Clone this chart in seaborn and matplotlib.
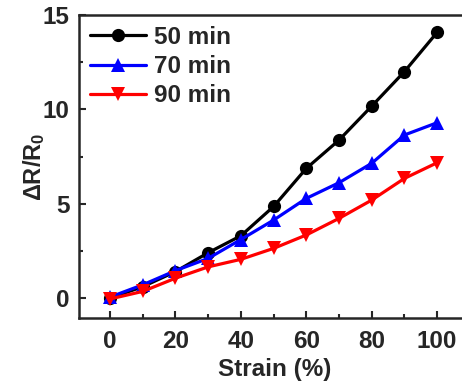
import pandas as pd
import matplotlib
matplotlib.use("Agg")
import matplotlib.pyplot as plt
import seaborn as sns
from matplotlib.ticker import MultipleLocator

# data
strain = [0, 10, 20, 30, 40, 50, 60, 70, 80, 90, 100]
r_50 = [0.0, 0.6, 1.4, 2.4, 3.3, 4.85, 6.87, 8.37, 10.17, 12.0, 14.08]
r_70 = [0.05, 0.7, 1.45, 2.1, 3.1, 4.13, 5.28, 6.11, 7.14, 8.64, 9.29]
r_90 = [-0.05, 0.35, 1.05, 1.65, 2.05, 2.63, 3.34, 4.22, 5.19, 6.34, 7.17]
series = ['50 min', '70 min', '90 min']

df = pd.concat([
    pd.DataFrame({'Strain': strain, 'dR': vals, 'Time': name})
    for name, vals in zip(series, [r_50, r_70, r_90])
])

sns.set_style("ticks")
plt.rcParams['font.family'] = ['Liberation Sans', 'DejaVu Sans']
plt.rcParams['font.weight'] = 'bold'
plt.rcParams['mathtext.fontset'] = 'custom'
plt.rcParams['mathtext.rm'] = 'Liberation Sans:bold'
plt.rcParams['mathtext.bf'] = 'Liberation Sans:bold'
plt.rcParams['mathtext.it'] = 'Liberation Sans:bold'

fig = plt.figure(figsize=(4.62, 3.81), dpi=100)
ax = fig.add_axes([79 / 462, 1 - 318 / 381, 0.846, (318 - 15) / 381])

palette = {'50 min': 'black', '70 min': '#0000ff', '90 min': '#ff0000'}
markers = {'50 min': 'o', '70 min': '^', '90 min': 'v'}
sns.lineplot(data=df, x='Strain', y='dR', hue='Time', style='Time',
             palette=palette, markers=markers, dashes=False,
             linewidth=2.3, markersize=9.5, markeredgewidth=0, ax=ax)

ax.set_xlim(-9.5, 110)
ax.set_ylim(-1.06, 15)
ax.xaxis.set_major_locator(MultipleLocator(20))
ax.xaxis.set_minor_locator(MultipleLocator(10))
ax.yaxis.set_major_locator(MultipleLocator(5))
ax.yaxis.set_minor_locator(MultipleLocator(2.5))
ax.tick_params(which='both', direction='in', width=1.5, labelsize=17.5)
ax.tick_params(which='major', length=5)
ax.tick_params(which='minor', length=3)
ax.tick_params(axis='x', pad=9)
ax.tick_params(axis='y', pad=7)
for s in ax.spines.values():
    s.set_linewidth(1.8)

ax.set_xlabel('Strain (%)', fontsize=17.5, fontweight='bold', labelpad=3)
ax.set_ylabel(r'$\Delta$R/R$_0$', fontsize=17, fontweight='bold', labelpad=-3)

leg = ax.legend(loc='upper left', frameon=False, fontsize=17.5, handlelength=2.3,
                borderaxespad=0.2, borderpad=0.25, labelspacing=0.25,
                handletextpad=0.35)
for t in leg.get_texts():
    t.set_fontweight('bold')

fig.savefig('out.png', dpi=100)
